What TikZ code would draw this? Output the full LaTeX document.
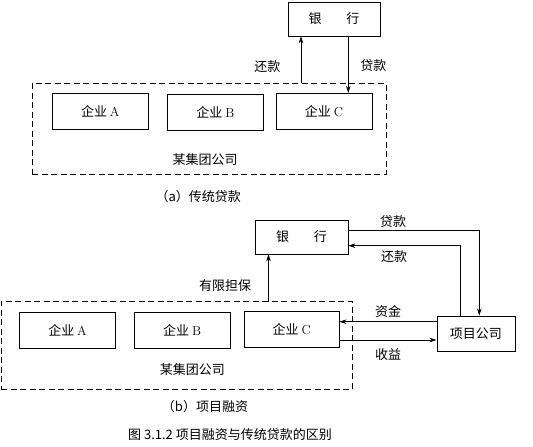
\documentclass[tikz,border=0pt]{standalone}
\usepackage{fontspec}
\newfontfamily\cjk{Noto Sans CJK SC}
\usetikzlibrary{arrows.meta}
\tikzset{
	box/.style={draw, minimum width=96, minimum height=36, inner sep=0pt},
	grp/.style={draw, dash pattern=on 6pt off 3.5pt, inner sep=0pt},
	arr/.style={-{Stealth[length=7pt,width=4.5pt]}},
}

\begin{document}
\begin{tikzpicture}[x=1pt, y=-1pt, line width=0.6pt,
	font=\cjk\fontsize{13}{15}\selectfont]
	\useasboundingbox (0,0) rectangle (533,447);
	% (a) traditional loan
	\node[box, minimum width=92, minimum height=34] (banka) at (334,19) {银\hspace{1.9em}行};
	\node[grp, minimum width=353.7, minimum height=90.7] (grpa) at (209.2,128.7) {};
	\node[box] (aa) at (100.3,111.2) {企业 \textrm{A}};
	\node[box] (ba) at (215.3,112.2) {企业 \textrm{B}};
	\node[box] (ca) at (324,111.2) {企业 \textrm{C}};
	\node (groupa) at (205,160) {某集团公司};
	\node (repaya) at (267.3,66.7) {还款};
	\node (loana) at (373.3,66) {贷款};
	\node (capa) at (198.3,196.7) {（a）传统贷款};
	% (b) project finance
	\node[box, minimum width=93, minimum height=34] (bankb) at (301.5,237) {银\hspace{1.9em}行};
	\node[grp, minimum width=351.3, minimum height=87.3] (grpb) at (176.7,345.3) {};
	\node[box] (ab) at (67.5,330.3) {企业 \textrm{A}};
	\node[box] (bb) at (182.2,330) {企业 \textrm{B}};
	\node[box, minimum width=95] (cb) at (291.7,329.5) {企业 \textrm{C}};
	\node[box, minimum width=78, minimum height=35] (proj) at (475.8,333.3) {项目公司};
	\node (groupb) at (192.3,370) {某集团公司};
	\node (guar) at (225,286) {有限担保};
	\node (loanb) at (393,222) {贷款};
	\node (repayb) at (394,257) {还款};
	\node (fund) at (388,311.7) {资金};
	\node (gain) at (388,355) {收益};
	\node (capb) at (205,406.7) {（b）项目融资};
	% caption
	\node (cap) at (230,435) {图 3.1.2 项目融资与传统贷款的区别};
	% connections
	\coordinate (ra) at (301,83.3);
	\coordinate (la) at (348.3,36);
	\coordinate (gb) at (268.5,301.7);
	\draw[arr] (ra) -- (ra |- banka.south);
	\draw[arr] (la) -- (la |- ca.north);
	\draw[arr] (gb) -- (gb |- bankb.south);
	\draw[arr] ([yshift=7pt]bankb.east) -| ([xshift=3.5pt]proj.north);
	\draw[arr] ([xshift=-15.3pt]proj.north) |- ([yshift=-8.7pt]bankb.east);
	\draw[arr] ([yshift=11.6pt]proj.west) -- ([yshift=11.6pt]proj.west -| cb.east);
	\draw[arr] ([yshift=-10.5pt]cb.east) -- ([yshift=-10.5pt]cb.east -| proj.west);
\end{tikzpicture}
\end{document}
